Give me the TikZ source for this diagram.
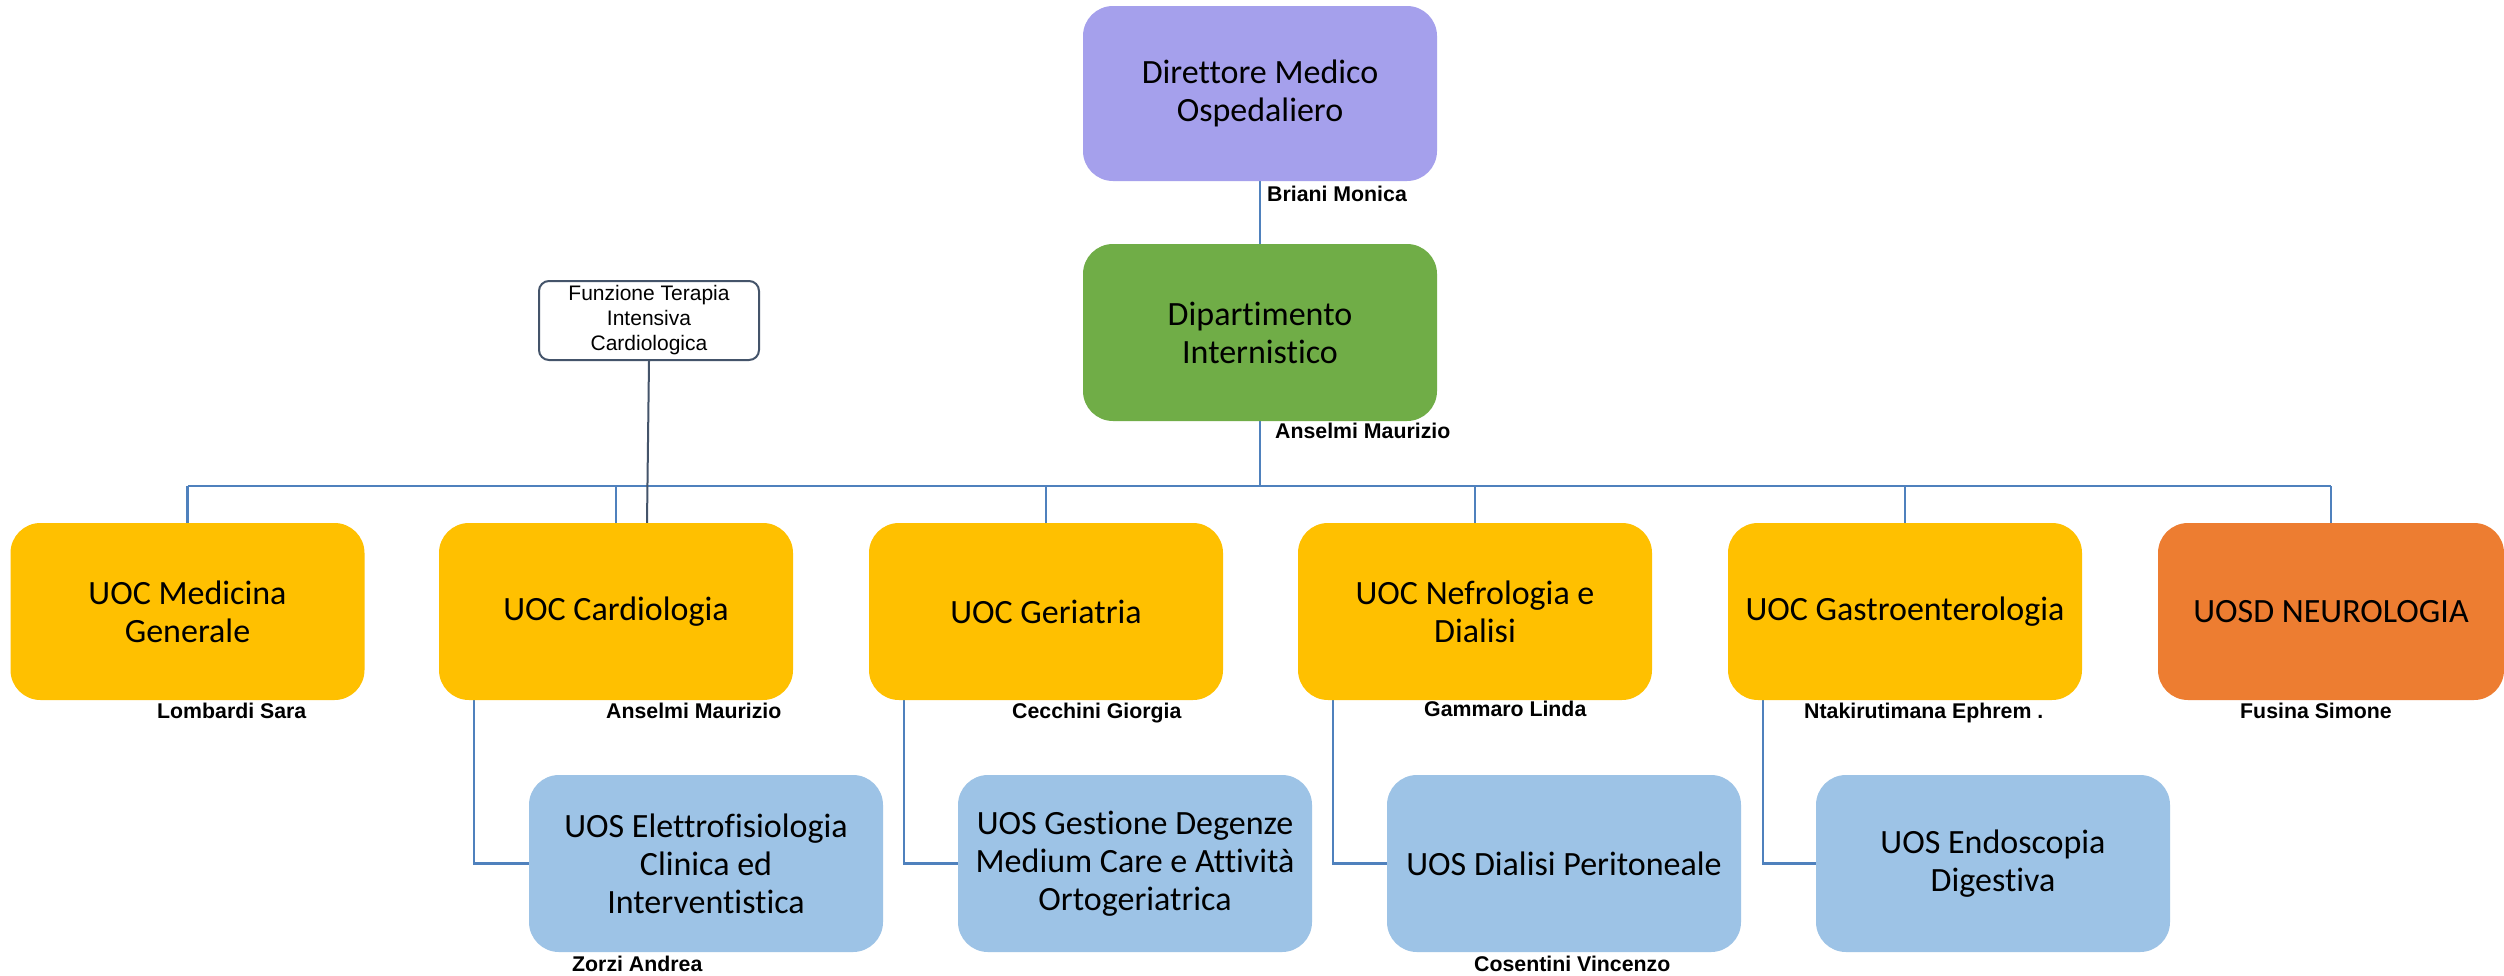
\documentclass[tikz,border=0pt]{standalone}
\usepackage{fontspec}
\setmainfont{Carlito}[Ligatures=NoCommon]
\newfontfamily\arialf{Liberation Sans}
\pgfdeclarelayer{bottom}
\pgfdeclarelayer{background}
\pgfsetlayers{bottom,background,main}
\definecolor{lav}{HTML}{A5A0EC}
\definecolor{grn}{HTML}{70AD47}
\definecolor{yel}{HTML}{FFC000}
\definecolor{org}{HTML}{ED7D31}
\definecolor{lbl}{HTML}{9DC3E6}
\definecolor{cblue}{HTML}{4F81BD}
\definecolor{slate}{HTML}{44546A}
\tikzset{
  unit/.style={rounded corners=30pt, minimum width=354pt, minimum height=177pt,
    inner sep=0pt, align=center, text=black, font=\fontsize{34}{38}\selectfont},
  conn/.style={draw=cblue, line width=2.5pt},
  fline/.style={draw=slate, line width=2pt},
  pname/.style={anchor=base west, inner sep=0pt, text=black,
    font=\arialf\bfseries\fontsize{21.3}{25}\selectfont},
  ftbox/.style={draw=slate, line width=2pt, fill=white, rounded corners=10pt,
    minimum width=220pt, minimum height=79pt, inner sep=0pt, align=center,
    text=black, font=\arialf\fontsize{21}{25}\selectfont}
}
\begin{document}
\begin{tikzpicture}[x=1pt,y=-1pt]
\useasboundingbox (0,0) rectangle (2504,975);
\begin{pgfonlayer}{bottom}
  \fill[white] (0,0) rectangle (2504,975);
\end{pgfonlayer}

% top
\node[unit, fill=lav, minimum height=175pt] (dir) at (1260,93.5) {Direttore Medico\\Ospedaliero};
\node[unit, fill=grn] (dip) at (1260,332.5) {Dipartimento\\Internistico};
\node[ftbox] (fti) at (649,320.5) {Funzione Terapia\\Intensiva\\Cardiologica};

% level 2
\node[unit, fill=yel] (med) at (187.5,611.5) {UOC Medicina\\Generale};
\node[unit, fill=yel] (card) at (616,611.5) {UOC Cardiologia};
\node[unit, fill=yel] (ger) at (1046,611.5) {UOC Geriatria};
\node[unit, fill=yel] (nef) at (1475,611.5) {UOC Nefrologia e\\Dialisi};
\node[unit, fill=yel] (gas) at (1905,611.5) {UOC Gastroenterologia};
\node[unit, fill=org, minimum width=346pt] (neu) at (2331,611.5) {UOSD NEUROLOGIA};

% level 3
\node[unit, fill=lbl] (elet) at (706,863.5) {UOS Elettrofisiologia\\Clinica ed\\Interventistica};
\node[unit, fill=lbl] (gest) at (1135,863.5) {UOS Gestione Degenze\\Medium Care e Attività\\Ortogeriatrica};
\node[unit, fill=lbl] (dial) at (1564,863.5) {UOS Dialisi Peritoneale};
\node[unit, fill=lbl] (endo) at (1993,863.5) {UOS Endoscopia\\Digestiva};

% names
\node[pname] (nbri) at (1267,201) {Briani Monica};
\node[pname] (nans1) at (1275,438) {Anselmi Maurizio};
\node[pname] (nlom) at (157,718) {Lombardi Sara};
\node[pname] (nans2) at (606,718) {Anselmi Maurizio};
\node[pname] (ncec) at (1012,718) {Cecchini Giorgia};
\node[pname] (ngam) at (1424,716) {Gammaro Linda};
\node[pname] (ntak) at (1804,718) {Ntakirutimana Ephrem .};
\node[pname] (nfus) at (2240,718) {Fusina Simone};
\node[pname] (nzor) at (572,971) {Zorzi Andrea};
\node[pname] (ncos) at (1474,971) {Cosentini Vincenzo};

\coordinate (bus) at (0,486);
\begin{pgfonlayer}{background}
  \draw[conn] (dir.south) -- (dip.north);
  \draw[conn] (dip.south) -- (dip.south |- bus);
  \draw[conn] (med.north |- bus) -- (neu.north |- bus);
  \foreach \n in {med,card,ger,nef,gas,neu}
    \draw[conn] (\n.north |- bus) -- (\n.north);
  \draw[conn] ([xshift=35pt]card.south west) |- (elet.west);
  \draw[conn] ([xshift=35pt]ger.south west) |- (gest.west);
  \draw[conn] ([xshift=35pt]nef.south west) |- (dial.west);
  \draw[conn] ([xshift=35pt]gas.south west) |- (endo.west);
  \draw[fline] (fti.south) -- ([xshift=31pt]card.north);
\end{pgfonlayer}
\end{tikzpicture}
\end{document}
